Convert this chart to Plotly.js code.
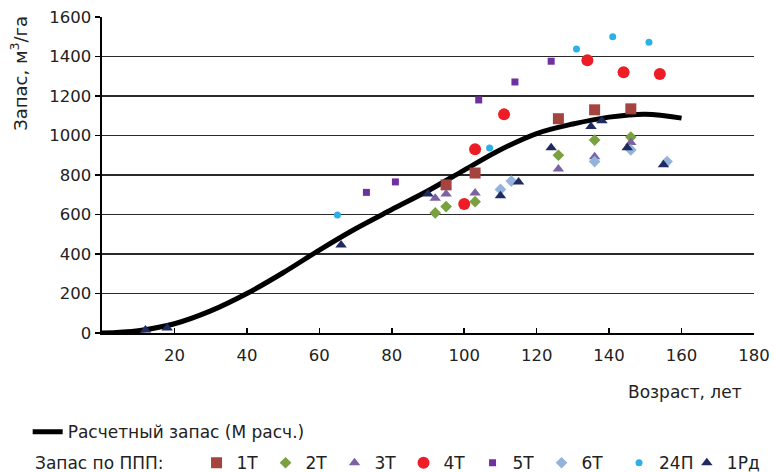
<!DOCTYPE html>
<html><head><meta charset="utf-8">
<script src="https://cdn.plot.ly/plotly-3.0.1.min.js"></script>
<style>html,body{margin:0;padding:0;background:#fff}#chart{width:774px;height:472px}</style>
</head><body><div id="chart"></div>
<script>
// Calculated stock curve
const calcAge   = [0, 10, 20, 30, 40, 50, 60, 70, 80, 90, 100, 110, 120, 130, 140, 150, 160];
const calcStock = [0, 12, 47, 112, 200, 305, 420, 528, 625, 720, 825, 928, 1010, 1058, 1093, 1108, 1088];

// Stock on permanent sample plots
const age1T = [95, 103, 126, 136, 146];
const val1T = [750, 810, 1085, 1130, 1135];
const age2T = [92, 95, 103, 126, 136, 146];
const val2T = [608, 640, 665, 900, 977, 992];
const age3T = [92, 95, 103, 126, 136, 146];
const val3T = [682, 704, 709, 830, 893, 964];
const age4T = [100, 103, 111, 134, 144, 154];
const val4T = [653, 930, 1107, 1381, 1320, 1311];
const age5T = [73, 81, 104, 114, 124];
const val5T = [712, 765, 1180, 1271, 1376];
const age6T = [110, 113, 136, 146, 156];
const val6T = [727, 769, 868, 927, 868];
const age24P = [65, 107, 131, 141, 151];
const val24P = [597, 937, 1438, 1500, 1472];
const age1Rd = [12, 18, 66, 90, 110, 115, 124, 135, 138, 145, 155];
const val1Rd = [15, 25, 446, 704, 695, 765, 938, 1045, 1075, 938, 852];

const xTicks = [20, 40, 60, 80, 100, 120, 140, 160, 180];
const yTicks = [0, 200, 400, 600, 800, 1000, 1200, 1400, 1600];

const FONT = 'DejaVu Sans';

function pts(name, x, y, symbol, color, size, leg) {
  return {type:'scatter', mode:'markers', name:name, x:x, y:y, legend:leg || 'legend2',
    marker:{symbol:symbol, color:color, size:size, line:{width:0}}, hoverinfo:'x+y'};
}

const traces = [
  {type:'scatter', mode:'lines', name:'Расчетный запас (M расч.)', x:calcAge, y:calcStock,
   line:{color:'#000', width:5, shape:'spline'}, legend:'legend'},
  pts('1Т', age1T, val1T, 'square', '#A5433F', 11),
  pts('2Т', age2T, val2T, 'diamond', '#7AA040', 9),
  pts('3Т', age3T, val3T, 'triangle-up', '#7C62A2', 10),
  pts('4Т', age4T, val4T, 'circle', '#EE1C25', 12),
  pts('5Т', age5T, val5T, 'square', '#7031A0', 7),
  pts('6Т', age6T, val6T, 'diamond', '#93B3DA', 9),
  pts('24П', age24P, val24P, 'circle', '#2BB0E8', 7, 'legend4'),
  pts('1Рд', age1Rd, val1Rd, 'triangle-up', '#1F2A60', 10, 'legend3')
];

const legFont = {family:FONT, size:17, color:'#222'};

const layout = {
  width:774, height:472,
  margin:{l:102, r:20, t:17, b:139, autoexpand:false},
  paper_bgcolor:'#fff', plot_bgcolor:'#fff',
  font:{family:FONT, size:17, color:'#222'},
  showlegend:true,
  xaxis:{range:[0,180], tickvals:xTicks, ticks:'inside', ticklen:5, tickwidth:1.5, tickcolor:'#000',
         showline:true, linecolor:'#000', linewidth:2, showgrid:false, zeroline:false, ticklabelstandoff:6,
         tickfont:{family:FONT, size:16.5, color:'#222'}, fixedrange:true},
  yaxis:{range:[0,1600], tickvals:yTicks, ticks:'outside', ticklen:5, tickwidth:1.5, tickcolor:'#000',
         showline:true, linecolor:'#000', linewidth:2.5, showgrid:true, gridcolor:'#2a2a2a', gridwidth:1.5,
         zeroline:false, tickfont:{family:FONT, size:16.5, color:'#222'}, fixedrange:true},
  legend:{x:-0.114, xanchor:'left', y:-0.3136, yanchor:'middle', orientation:'h',
          font:legFont, bgcolor:'rgba(0,0,0,0)'},
  legend2:{x:0.145, xanchor:'left', y:-0.412, yanchor:'middle', orientation:'h',
          entrywidth:24, entrywidthmode:'pixels', font:legFont, bgcolor:'rgba(0,0,0,0)'},
  legend4:{x:0.793, xanchor:'left', y:-0.412, yanchor:'middle', orientation:'h',
          font:legFont, bgcolor:'rgba(0,0,0,0)'},
  legend3:{x:0.897, xanchor:'left', y:-0.412, yanchor:'middle', orientation:'h',
          font:legFont, bgcolor:'rgba(0,0,0,0)'},
  annotations:[
    {text:'Возраст, лет', xref:'paper', yref:'paper', x:0.985, xanchor:'right', y:-0.187, yanchor:'middle',
     showarrow:false, font:{family:FONT, size:17, color:'#222'}},
    {text:'Запас, м<sup>3</sup>/га', xref:'paper', yref:'paper', x:-0.1265, xanchor:'center', y:0.822, yanchor:'middle',
     textangle:-90, showarrow:false, font:{family:FONT, size:18, color:'#222'}},
    {text:'Запас по ППП:', xref:'paper', yref:'paper', x:-0.1059, xanchor:'left', y:-0.412, yanchor:'middle',
     showarrow:false, font:{family:FONT, size:17, color:'#222'}}
  ]
};

Plotly.newPlot('chart', traces, layout, {displayModeBar:false, staticPlot:true});
</script></body></html>
